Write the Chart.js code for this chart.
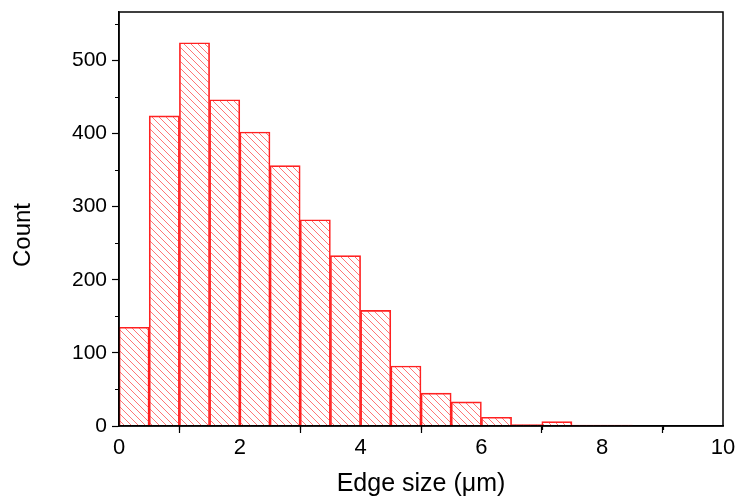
<!DOCTYPE html>
<html>
<head>
<meta charset="utf-8">
<script src="https://cdn.jsdelivr.net/npm/chart.js@4/dist/chart.umd.min.js"></script>
<style>
	html, body { margin: 0; padding: 0; background: #fff; }
	#wrap { width: 739px; height: 499px; }
</style>
</head>
<body>
<div id="wrap"><canvas id="edge-chart"></canvas></div>
<script>
	// bin centres (um) and counts, bins are 0.5 um wide
	var binCenters = [0.25, 0.75, 1.25, 1.75, 2.25, 2.75, 3.25, 3.75, 4.25, 4.75, 5.25, 5.75, 6.25, 6.75, 7.25, 7.75, 8.25];
	var counts = [135, 424, 524, 446, 402, 356, 282, 233, 158, 82, 45, 33, 12, 2, 6, 1, 1];
	var xMinorTicks = [1, 3, 5, 7, 9];
	var yMinorTicks = [50, 150, 250, 350, 450, 550];
	var yTitle = 'Count';

	function hatchPattern() {
		var s = 7;
		var c = document.createElement('canvas');
		c.width = s;
		c.height = s;
		var g = c.getContext('2d');
		g.strokeStyle = 'rgba(255,60,60,0.7)';
		g.lineWidth = 1;
		g.beginPath();
		g.moveTo(0, 0); g.lineTo(s, s);
		g.moveTo(-1, s - 1); g.lineTo(1, s + 1);
		g.moveTo(s - 1, -1); g.lineTo(s + 1, 1);
		g.stroke();
		return g.createPattern(c, 'repeat');
	}

	var points = binCenters.map(function(x, i) {
		return { x: x, y: counts[i] };
	});

	// frame, minor ticks and the y title (sits a bit below centre in the original)
	var framePlugin = {
		id: 'frame',
		afterDraw: function(chart) {
			var ctx = chart.ctx;
			var a = chart.chartArea;
			var xs = chart.scales.x, ys = chart.scales.y;
			ctx.save();
			ctx.strokeStyle = '#000';
			ctx.lineWidth = 1.5;
			ctx.strokeRect(a.left, a.top, a.right - a.left, a.bottom - a.top);
			ctx.lineWidth = 1.2;
			ctx.beginPath();
			xMinorTicks.forEach(function(v) {
				var px = Math.round(xs.getPixelForValue(v)) + 0.5;
				ctx.moveTo(px, a.bottom);
				ctx.lineTo(px, a.bottom + 4);
			});
			yMinorTicks.forEach(function(v) {
				var py = Math.round(ys.getPixelForValue(v)) + 0.5;
				ctx.moveTo(a.left, py);
				ctx.lineTo(a.left - 4, py);
			});
			ctx.stroke();

			ctx.translate(23, 235);
			ctx.rotate(-Math.PI / 2);
			ctx.fillStyle = '#000';
			ctx.font = '24px "Liberation Sans"';
			ctx.textAlign = 'center';
			ctx.textBaseline = 'middle';
			ctx.fillText(yTitle, 0, 0);
			ctx.restore();
		}
	};

	var ctx = document.getElementById('edge-chart');
	var chart = new Chart(ctx, {
		type: 'bar',
		data: {
			datasets: [{
				data: points,
				backgroundColor: hatchPattern(),
				borderColor: '#ff2020',
				borderWidth: 1,
				barPercentage: 1,
				categoryPercentage: 1,
				minBarLength: 1
			}]
		},
		options: {
			responsive: true,
			maintainAspectRatio: false,
			animation: false,
			layout: { padding: { top: 12, right: 16, left: 0, bottom: 0 } },
			plugins: {
				legend: { display: false },
				tooltip: { enabled: false }
			},
			scales: {
				x: {
					type: 'linear',
					min: 0,
					max: 10,
					offset: false,
					ticks: { stepSize: 2, color: '#000', font: { family: 'Liberation Sans', size: 22 }, padding: 2, maxRotation: 0 },
					grid: { drawOnChartArea: false, drawTicks: true, tickLength: 7, color: '#000', tickWidth: 1.2 },
					border: { display: true, color: '#000', width: 1.5 },
					title: { display: true, text: 'Edge size (\u03bcm)', color: '#000', font: { family: 'Liberation Sans', size: 25 }, padding: { top: 0, bottom: 0 } },
					afterFit: function(scale) {
						scale.height = 73;
						scale.paddingLeft = 0;
						scale.paddingRight = 0;
					}
				},
				y: {
					min: 0,
					max: 566,
					ticks: { stepSize: 100, includeBounds: false, color: '#000', font: { family: 'Liberation Sans', size: 21 }, padding: 5 },
					grid: { drawOnChartArea: false, drawTicks: true, tickLength: 7, color: '#000', tickWidth: 1.2 },
					border: { display: true, color: '#000', width: 1.5 },
					title: { display: false },
					afterFit: function(scale) {
						scale.width = 119;
						scale.paddingTop = 0;
						scale.paddingBottom = 0;
					}
				}
			}
		},
		plugins: [framePlugin]
	});
</script>
</body>
</html>
